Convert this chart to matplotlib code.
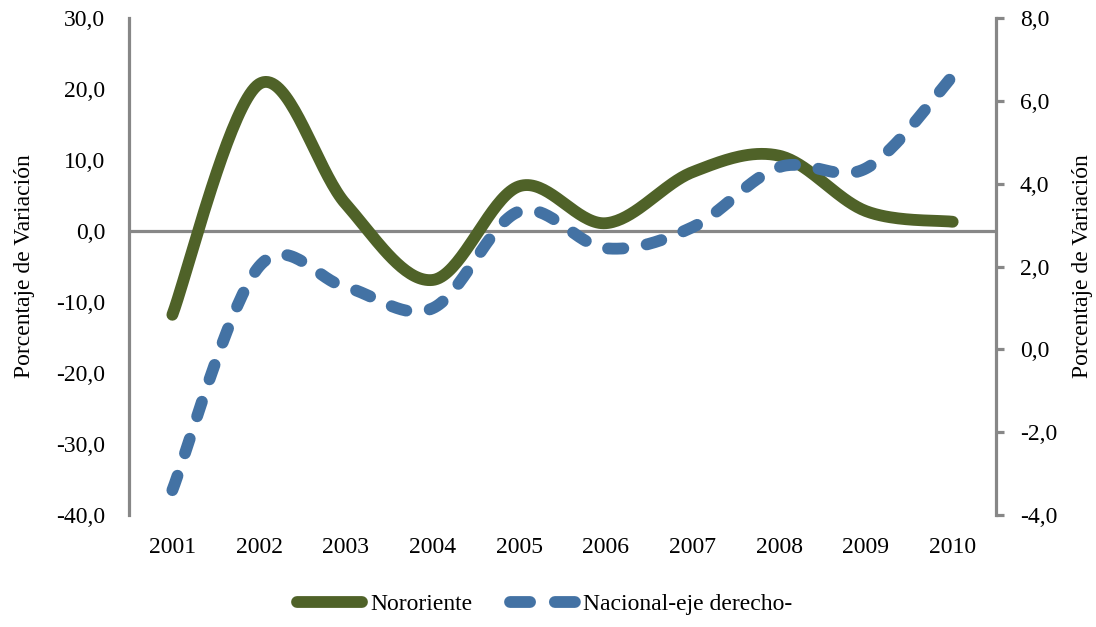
import numpy as np
import matplotlib
matplotlib.use("Agg")
import matplotlib.pyplot as plt
from matplotlib.lines import Line2D

plt.rcParams['font.family'] = ['Liberation Serif', 'DejaVu Serif']

years = ["2001", "2002", "2003", "2004", "2005", "2006", "2007", "2008", "2009", "2010"]
nororiente = [-11.8, 20.7, 3.8, -6.9, 6.3, 1.1, 8.3, 10.6, 2.8, 1.3]
nacional = [-3.4, 2.0, 1.5, 0.99, 3.33, 2.44, 2.95, 4.4, 4.37, 6.6]

green = "#4f6228"
blue = "#4372a4"
gray = "#878787"
fs = 17


def smooth(ys, n=40):
    # catmull-rom style smoothing, like the spreadsheet "smoothed line"
    ys = list(ys)
    xs = list(range(len(ys)))
    px = [xs[0]] + xs + [xs[-1]]
    py = [ys[0]] + ys + [ys[-1]]
    outx, outy = [], []
    for i in range(1, len(px) - 2):
        p0, p1, p2, p3 = np.array([px[i-1], py[i-1]]), np.array([px[i], py[i]]), \
            np.array([px[i+1], py[i+1]]), np.array([px[i+2], py[i+2]])
        c1 = p1 + (p2 - p0) / 6.0
        c2 = p2 - (p3 - p1) / 6.0
        t = np.linspace(0, 1, n)[:, None]
        b = (1-t)**3*p1 + 3*(1-t)**2*t*c1 + 3*(1-t)*t**2*c2 + t**3*p2
        outx.extend(b[:, 0])
        outy.extend(b[:, 1])
    return np.array(outx), np.array(outy)


fig = plt.figure(figsize=(10.96, 6.27), dpi=100)
ax = fig.add_axes([0.1177, 0.1786, 0.7911, 0.7927])
ax2 = ax.twinx()

ax.axhline(0, color=gray, lw=2.3, zorder=1)

gx, gy = smooth(nororiente)
ax.plot(gx, gy, color=green, lw=8.5, solid_capstyle='round', zorder=3)
bx, by = smooth(nacional)
ax2.plot(bx, by, color=blue, lw=8.5, linestyle=(0, (1.3, 2.0)),
         dash_capstyle='round', zorder=3)

ax.set_xlim(-0.5, 9.5)
ax.set_ylim(-40, 30)
ax2.set_ylim(-4, 8)
ax.set_yticks(np.arange(-40, 31, 10))
ax2.set_yticks(np.arange(-4, 8.1, 2))
ax.set_yticklabels([f"{v:.1f}".replace(".", ",") for v in np.arange(-40, 31, 10)])
ax2.set_yticklabels([f"{v:.1f}".replace(".", ",") for v in np.arange(-4, 8.1, 2)])
ax.set_xticks(range(len(years)))
ax.set_xticklabels(years)

for a in (ax, ax2):
    for s in a.spines.values():
        s.set_visible(False)
ax.spines['left'].set_visible(True)
ax.spines['left'].set_color(gray)
ax.spines['left'].set_linewidth(2.3)
ax2.spines['right'].set_visible(True)
ax2.spines['right'].set_color(gray)
ax2.spines['right'].set_linewidth(2.3)

ax.tick_params(axis='y', length=0, pad=17, labelsize=fs)
ax.tick_params(axis='x', length=0, pad=16, labelsize=fs)
ax2.tick_params(axis='y', length=6, width=2.3, color=gray, pad=11, labelsize=fs)

ax.set_ylabel("Porcentaje de Variación", fontsize=fs, labelpad=15)
ax2.set_ylabel("Porcentaje de Variación", fontsize=fs, rotation=90, labelpad=11)

h1 = Line2D([], [], color=green, lw=8.5, solid_capstyle='round')
h2 = Line2D([], [], color=blue, lw=8.5, linestyle=(0, (1.7, 2.1)), dash_capstyle='round')
fig.legend(handles=[h1, h2], labels=["Nororiente", "Nacional-eje derecho-"],
           loc='lower center', bbox_to_anchor=(0.497, -0.015),
           ncol=2, frameon=False, fontsize=fs, handlelength=2.75,
           handletextpad=0.35, columnspacing=1.6)

fig.savefig("out.png", dpi=100)
